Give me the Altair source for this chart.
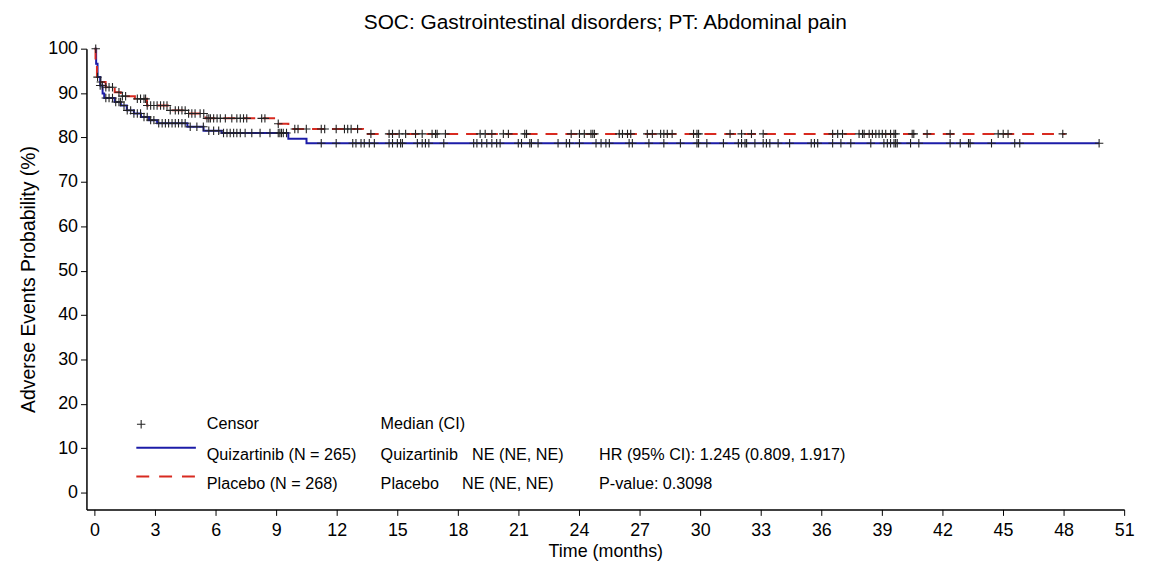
import altair as alt
import pandas as pd

FONT = "Liberation Sans"
BLUE = "#1c1ca8"
RED = "#d82a20"

# Kaplan-Meier step points (time in months, probability in %)
quiz_time = [0, 0.08, 0.15, 0.28, 0.40, 0.48, 1.00, 1.30, 1.60, 1.95, 2.30, 2.70, 3.10, 4.60, 5.40, 6.30, 9.60, 10.50, 49.76]
quiz_surv = [100, 96.6, 93.6, 91.7, 89.9, 88.9, 88.0, 87.2, 86.1, 85.4, 84.6, 83.9, 83.2, 82.4, 81.5, 81.0, 79.7, 78.7, 78.7]
plac_time = [0, 0.05, 0.12, 0.25, 0.55, 1.00, 1.30, 2.00, 2.60, 3.70, 4.60, 5.50, 9.10, 9.60, 13.30, 48.10]
plac_surv = [100, 96.5, 93.6, 92.5, 91.3, 90.2, 89.3, 88.7, 87.2, 86.1, 85.4, 84.3, 83.1, 81.9, 80.8, 80.8]

# Censoring times (months)
quiz_censor = [0.06, 0.15, 0.28, 0.39, 0.56, 0.72, 0.89, 1.05, 1.21, 1.29, 1.46, 1.62, 1.79, 1.95,
               2.12, 2.28, 2.45, 2.61, 2.78, 2.94, 3.18, 3.35, 3.51, 3.67, 3.84, 4.00, 4.16, 4.33,
               4.49, 4.74, 5.07, 5.39, 5.66, 5.90, 6.15, 6.39, 6.56, 6.72, 6.89, 7.05, 7.22, 7.46,
               7.79, 8.20, 8.69, 9.10, 9.18, 9.26, 9.35, 9.51, 11.23, 11.97, 12.79, 12.95, 13.20,
               13.36, 13.61, 13.86, 14.59, 14.76, 15.00, 15.16, 15.25, 15.99, 16.23, 16.39, 16.56,
               17.30, 18.78, 18.94, 19.18, 19.43, 19.68, 19.92, 20.09, 20.99, 21.15, 21.56, 21.64,
               21.97, 22.96, 23.37, 23.53, 24.02, 24.84, 25.09, 25.33, 25.50, 26.48, 26.64, 27.46,
               28.20, 29.02, 29.84, 29.92, 30.33, 31.15, 31.89, 32.05, 32.22, 32.30, 32.71, 33.12,
               33.28, 33.45, 33.86, 34.43, 35.50, 35.66, 35.82, 36.56, 36.97, 37.46, 38.45, 39.10,
               39.27, 39.43, 39.60, 39.68, 39.76, 40.42, 40.83, 42.38, 42.88, 43.29, 43.37, 44.43,
               45.58, 45.83, 49.76]
plac_censor = [0.31, 0.56, 0.72, 0.89, 1.21, 1.38, 1.54, 2.12, 2.28, 2.45, 2.53, 2.61, 2.78, 2.94,
               3.10, 3.27, 3.43, 3.59, 3.75, 4.00, 4.16, 4.33, 4.49, 4.66, 4.82, 4.98, 5.23, 5.41,
               5.57, 5.66, 5.74, 5.90, 6.07, 6.23, 6.48, 6.80, 7.05, 7.22, 7.38, 7.54, 8.28, 8.44,
               9.10, 9.92, 10.08, 10.49, 11.23, 11.40, 11.97, 12.38, 12.54, 12.71, 13.03, 13.69,
               14.59, 14.76, 15.09, 15.41, 15.90, 16.23, 16.72, 16.89, 16.97, 17.38, 19.10, 19.35,
               19.68, 20.25, 20.50, 21.31, 21.40, 23.61, 24.02, 24.26, 24.59, 24.68, 24.76, 25.99,
               26.15, 26.40, 26.56, 27.38, 27.63, 28.04, 28.20, 28.37, 28.61, 29.67, 29.84, 29.92,
               31.48, 32.05, 32.54, 33.12, 36.56, 36.81, 37.05, 37.87, 38.04, 38.12, 38.37, 38.53,
               38.70, 38.86, 39.02, 39.19, 39.43, 39.60, 39.68, 40.50, 40.58, 41.24, 42.38, 44.76,
               45.01, 45.25, 47.96]

x_ticks = list(range(0, 52, 3))
y_ticks = list(range(0, 101, 10))

# Legend / annotation content (positions in data units)
legend_rows = [
    {"t": 5.56, "p": 15.4, "label": "Censor"},
    {"t": 14.17, "p": 15.4, "label": "Median (CI)"},
    {"t": 5.56, "p": 8.4, "label": "Quizartinib (N = 265)"},
    {"t": 5.56, "p": 1.9, "label": "Placebo (N = 268)"},
    {"t": 14.17, "p": 8.4, "label": "Quizartinib"},
    {"t": 18.7, "p": 8.4, "label": "NE (NE, NE)"},
    {"t": 14.17, "p": 1.9, "label": "Placebo"},
    {"t": 18.2, "p": 1.9, "label": "NE (NE, NE)"},
    {"t": 24.99, "p": 8.4, "label": "HR (95% CI): 1.245 (0.809, 1.917)"},
    {"t": 24.99, "p": 1.9, "label": "P-value: 0.3098"},
]


def surv_at(t, times, survs):
    idx = max(i for i, tt in enumerate(times) if tt <= t)
    return survs[idx]


quiz_df = pd.DataFrame({"time": quiz_time, "surv": quiz_surv})
plac_df = pd.DataFrame({"time": plac_time, "surv": plac_surv})
cens_df = pd.DataFrame(
    [{"time": t, "surv": surv_at(t, quiz_time, quiz_surv)} for t in quiz_censor]
    + [{"time": t, "surv": surv_at(t, plac_time, plac_surv)} for t in plac_censor]
)

xscale = alt.Scale(domain=[-0.4, 51], nice=False, zero=False)
yscale = alt.Scale(domain=[-3.8, 100], nice=False, zero=False)
xaxis = alt.Axis(title="Time (months)", values=x_ticks, labelFlush=False)
yaxis = alt.Axis(title="Adverse Events Probability (%)", values=y_ticks)


def X(field):
    return alt.X(field, type="quantitative", scale=xscale, axis=xaxis)


def Y(field):
    return alt.Y(field, type="quantitative", scale=yscale, axis=yaxis)


plus = "M-1,0L1,0M0,-1L0,1"

quiz_line = alt.Chart(quiz_df).mark_line(
    interpolate="step-after", color=BLUE, strokeWidth=2
).encode(x=X("time"), y=Y("surv"))

plac_line = alt.Chart(plac_df).mark_line(
    interpolate="step-after", color=RED, strokeWidth=2, strokeDash=[12, 8]
).encode(x=X("time"), y=Y("surv"))

censors = alt.Chart(cens_df).mark_point(
    shape=plus, size=72, color="#222222", strokeWidth=1.1, filled=False, opacity=1
).encode(x=X("time"), y=Y("surv"))

# legend samples
leg_plus = alt.Chart(pd.DataFrame([{"t": 2.31, "p": 15.4}])).mark_point(
    shape=plus, size=72, color="#222222", strokeWidth=1.1, filled=False, opacity=1
).encode(x=X("t"), y=Y("p"))

leg_blue = alt.Chart(pd.DataFrame([{"t": 2.07, "t2": 5.02, "p": 10.1}])).mark_rule(
    color=BLUE, strokeWidth=2
).encode(x=X("t"), x2="t2", y=Y("p"))

leg_red = alt.Chart(pd.DataFrame([{"t": 2.07, "t2": 5.02, "p": 3.6}])).mark_rule(
    color=RED, strokeWidth=2, strokeDash=[13, 10]
).encode(x=X("t"), x2="t2", y=Y("p"))

leg_text = alt.Chart(pd.DataFrame(legend_rows)).mark_text(
    align="left", baseline="middle", font=FONT, fontSize=16.3, color="black"
).encode(x=X("t"), y=Y("p"), text="label:N")

chart = alt.layer(
    quiz_line, plac_line, censors, leg_plus, leg_blue, leg_red, leg_text
).properties(
    width=1045,
    height=464,
    autosize=alt.AutoSizeParams(type="none"),
    padding={"left": 79, "top": 39, "right": 22, "bottom": 54},
    title=alt.TitleParams(
        "SOC: Gastrointestinal disorders; PT: Abdominal pain",
        font=FONT, fontSize=21, fontWeight="normal", color="black",
        anchor="middle", offset=7,
    ),
).configure_view(stroke=None).configure_axis(
    grid=False,
    domainColor="black",
    domainWidth=1.5,
    tickColor="black",
    tickSize=6,
    tickWidth=1,
    labelColor="black",
    titleColor="black",
    labelFont=FONT,
    titleFont=FONT,
    labelFontSize=18,
    titleFontSize=18,
    titleFontWeight="normal",
).configure_axisX(titlePadding=3, labelPadding=6).configure_axisY(
    titlePadding=9, labelPadding=3, titleFontSize=19.5
)

chart.save("out.html", embed_options={"renderer": "svg", "actions": False})
